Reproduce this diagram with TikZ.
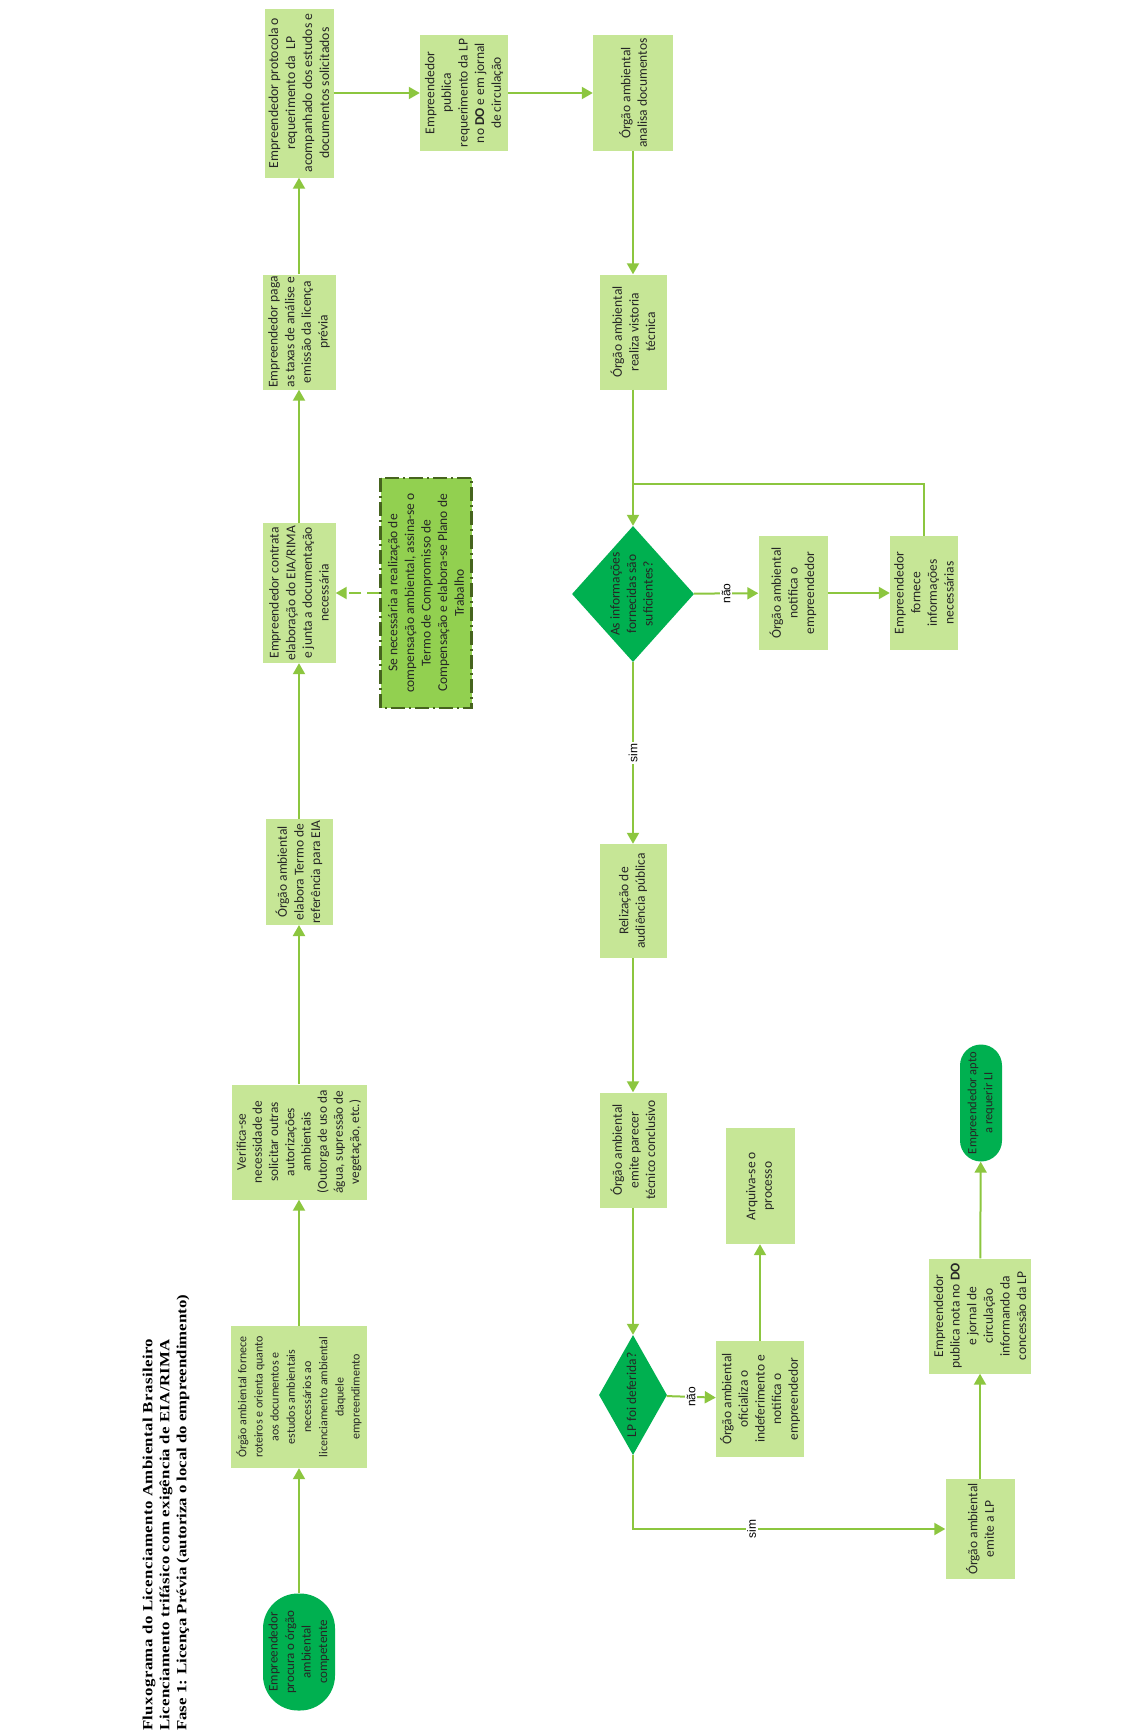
\documentclass[tikz,border=0pt]{standalone}
\usepackage{fontspec}
\setmainfont{Carlito}
\newfontfamily\arialf{Liberation Sans}
\newfontfamily\timesf[FakeStretch=1.2]{Liberation Serif}
\usetikzlibrary{shapes.geometric,arrows.meta}

\definecolor{boxfill}{RGB}{198,230,150}
\definecolor{lineg}{RGB}{140,198,63}
\definecolor{darkg}{RGB}{0,176,80}
\definecolor{midg}{RGB}{146,208,80}
\definecolor{dashb}{RGB}{70,100,30}

\newcommand\zbox[1]{\smash{\makebox[0pt]{\raisebox{-0.25em}{\begin{tabular}{@{}c@{}}#1\end{tabular}}}}}
\newcommand\boxfnt{\fontsize{13.5}{16.6}\selectfont}

\tikzset{
 box/.style={rotate=90, fill=boxfill, inner sep=1pt, align=center,
   font=\boxfnt, text=black!85},
 sz/.style 2 args={minimum height=#1, minimum width=#2},
 term/.style={rotate=90, fill=darkg, inner sep=1pt, align=center,
   font=\boxfnt, text=black!85, rounded corners=#1},
 dia/.style={rotate=90, diamond, fill=darkg, inner sep=0pt,
   font=\boxfnt, text=black!85},
 conn/.style={draw=lineg, line width=2pt},
 arr/.style={conn, -{Triangle[length=11pt,width=12pt]}},
 lbl/.style={rotate=90, fill=white, inner sep=1.5pt, text=black,
   font=\arialf\fontsize{12}{14}\selectfont},
 dbox/.style={rotate=90, fill=midg, draw=dashb, line width=2.5pt,
   dash pattern=on 14pt off 4pt on 2pt off 4pt, inner sep=1pt, align=center,
   font=\boxfnt, text=black!85},
}

\begin{document}
\begin{tikzpicture}[x=1pt,y=-1pt]
\useasboundingbox (0,0) rectangle (1140,1733);

\node[rotate=90, anchor=west, align=left, inner sep=0pt,
  font=\timesf\bfseries\fontsize{14}{17}\selectfont] (title) at (166,1731)
  {{\addfontfeature{LetterSpace=3}Fluxograma do Licenciamento Ambiental Brasileiro}\\
   {\addfontfeature{LetterSpace=2}Licenciamento trifásico com exigência de EIA/RIMA}\\
   Fase 1: Licença Prévia (autoriza o local do empreendimento)};

% left column
\node[term=35pt, sz={72}{117}, font=\fontsize{13}{16.5}\selectfont] (b1) at (299,1652)
  {Empreendedor\\procura o órgão\\ambiental\\competente};
\node[box, sz={136}{142}, font=\fontsize{12}{16.2}\selectfont] (b2) at (299,1397)
  {Órgão ambiental fornece\\roteiros e orienta quanto\\aos documentos e\\estudos ambientais\\necessários ao\\licenciamento ambiental\\daquele\\empreendimento};
\node[box, sz={135}{115}, font=\fontsize{13.3}{16.2}\selectfont] (b3) at (299,1142)
  {Verifica-se\\necessidade de\\solicitar outras\\autorizações\\ambientais\\(Outorga de uso da\\água, supressão de\\vegetação, etc.)};
\node[box, sz={67}{105}] (b4) at (299,872)
  {Órgão ambiental\\elabora Termo de\\referência para EIA};
\node[box, sz={73}{140}] (b5) at (299,593)
  {Empreendedor contrata\\elaboração do EIA/RIMA\\e junta a documentação\\necessária};
\node[dbox, sz={91}{230}] (nota) at (426,593)
  {Se necessária a realização de\\compensação ambiental, assina-se o\\Termo de Compromisso de\\Compensação e elabora-se Plano de\\Trabalho};
\node[box, sz={73}{115}] (b6) at (299,332)
  {Empreendedor paga\\as taxas de análise e\\emissão da licença\\prévia};
\node[box, sz={69}{169}, font=\fontsize{13.7}{17}\selectfont] (b7) at (299,93)
  {Empreendedor protocola o\\requerimento da\ \ LP\\acompanhado dos estudos e\\documentos solicitados};
\node[box, sz={88}{116}] (b8) at (464,93)
  {Empreendedor\\publica\\requerimento da LP\\no \textbf{DO} e em jornal\\de circulação};
\node[box, sz={80}{116}] (b9) at (633,93)
  {Órgão ambiental\\analisa documentos};

% right column
\node[box, sz={67}{115}] (b10) at (633,332)
  {Órgão ambiental\\realiza vistoria\\técnica};
\node[dia, sz={122}{136}] (d1) at (633,594)
  {\zbox{As informações\\fornecidas são\\suficientes?}};
\node[box, sz={69}{114}] (b11) at (793,593)
  {Órgão ambiental\\notifica o\\empreendedor};
\node[box, sz={68}{114}] (b12) at (924,593)
  {Empreendedor\\fornece\\informações\\necessárias};
\coordinate (jn) at (633,484);
\node[box, sz={67}{114}] (b13) at (633,901)
  {Relização de\\audiência pública};
\node[box, sz={67}{115}] (b14) at (633,1150)
  {Órgão ambiental\\emite parecer\\técnico conclusivo};
\node[dia, sz={68}{120}] (d2) at (633,1395)
  {\zbox{LP foi deferida?}};
\node[box, sz={88}{116}] (b15) at (760,1399)
  {Órgão ambiental\\oficializa o\\indeferimento e\\notifica o\\empreendedor};
\node[box, sz={69}{116}] (b16) at (760,1186)
  {Arquiva-se o\\processo};
\node[box, sz={69}{100}] (b17) at (980,1529)
  {Órgão ambiental\\emite a LP};
\node[box, sz={102}{115}] (b18) at (980,1316)
  {Empreendedor\\publica nota no \textbf{DO}\\e jornal de\\circulação\\informando da\\concessão da LP};
\node[term=21pt, sz={42}{117}, font=\fontsize{12.5}{16}\selectfont] (b19) at (981,1103)
  {Empreendedor apto\\a requerir LI};

% connectors
\draw[arr] (b1) -- (b2);
\draw[arr] (b2) -- (b3);
\draw[arr] (b3) -- (b4);
\draw[arr] (b4) -- (b5);
\draw[arr] (b5) -- (b6);
\draw[arr] (b6) -- (b7);
\draw[arr] (b7) -- (b8);
\draw[arr] (b8) -- (b9);
\draw[arr] (b9) -- (b10);
\draw[arr] (b10) -- (d1);
\draw[arr] (d1) -- node[lbl] (l1) {não} (b11);
\draw[arr] (b11) -- (b12);
\draw[conn] (b12) |- (jn);
\draw[arr] (d1) -- node[lbl] (l2) {sim} (b13);
\draw[arr] (b13) -- (b14);
\draw[arr] (b14) -- (d2);
\draw[arr] (d2) -- node[lbl] (l3) {não} (b15);
\draw[arr] (b15) -- (b16);
\draw[arr] (d2) |- node[lbl, pos=0.69] (l4) {sim} (b17);
\draw[arr] (b17) -- (b18);
\draw[arr] (b18) -- (b19);
\draw[conn, dash pattern=on 12pt off 6pt, -{Triangle[length=11pt,width=12pt]}] (nota) -- (b5);
\end{tikzpicture}
\end{document}
